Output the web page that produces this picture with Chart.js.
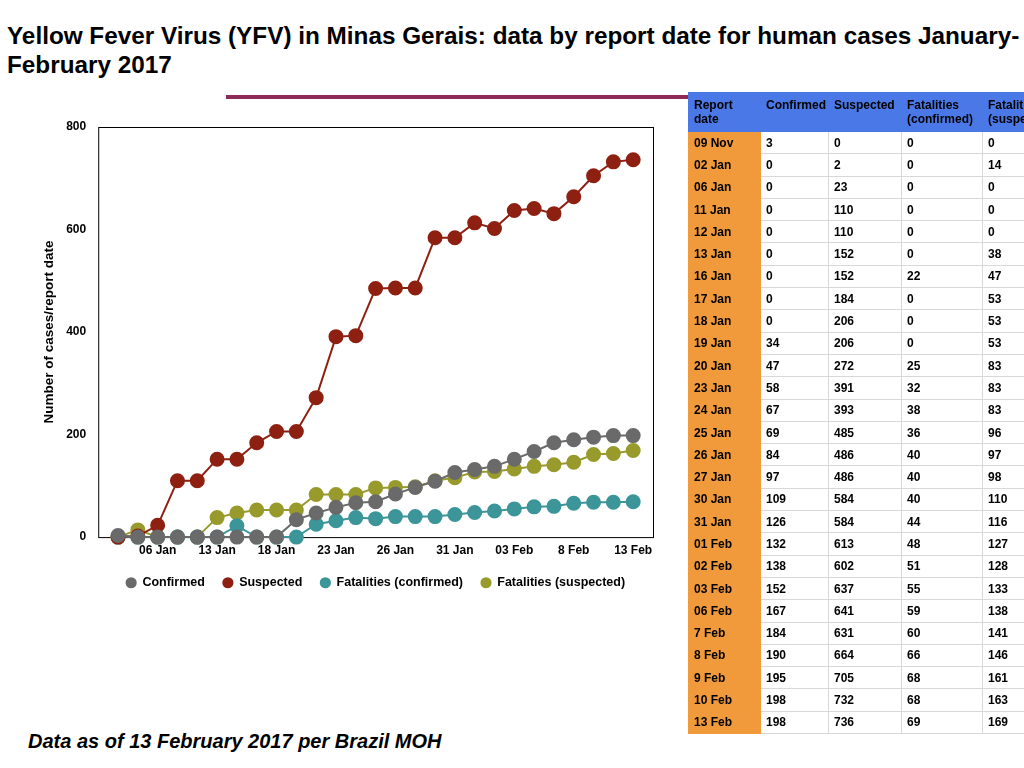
<!DOCTYPE html>
<html>
<head>
<meta charset="utf-8">
<script src="https://cdn.jsdelivr.net/npm/chart.js@4.4.1/dist/chart.umd.min.js"></script>
<style>
  html, body { margin: 0; padding: 0; background: #fff; }
  body { width: 1024px; height: 768px; position: relative; overflow: hidden; font-family: "Liberation Sans", Arial, sans-serif; }
  #title { position: absolute; left: 7px; top: 21px; font-size: 24.3px; font-weight: bold; line-height: 29px; color: #000; white-space: nowrap; }
  #rule { position: absolute; left: 226px; top: 95px; width: 464px; height: 4px; background: #8c2b57; }
  #chartBox { position: absolute; left: 0; top: 105px; width: 700px; height: 500px; }
  #footer { position: absolute; left: 28px; top: 730px; font-size: 20px; font-weight: bold; font-style: italic; }
  #tbl { position: absolute; left: 688px; top: 92px; width: 384px; border-collapse: collapse; table-layout: fixed; font-size: 12px; font-weight: bold; }
  #tbl td, #tbl th { border: 1px solid #d8d8d8; padding: 0 0 0 5px; text-align: left; vertical-align: middle; overflow: hidden; white-space: nowrap; }
  #tbl th { background: #4a78e6; height: 33px; vertical-align: top; padding-top: 5px; line-height: 14px; border-color: #4a78e6; font-weight: bold; }
  #tbl td { height: 21.3px; background: #fff; }
  #tbl td.d { background: #f09a3c; border-color: #f09a3c; }
</style>
</head>
<body>
<div id="title">Yellow Fever Virus (YFV) in Minas Gerais: data by report date for human cases January-<br>February 2017</div>
<div id="rule"></div>
<div id="chartBox"><canvas id="yfvChart"></canvas></div>
<table id="tbl">
  <colgroup><col style="width:72px"><col style="width:68px"><col style="width:73px"><col style="width:81px"><col style="width:90px"></colgroup>
  <thead><tr><th>Report<br>date</th><th>Confirmed</th><th>Suspected</th><th>Fatalities<br>(confirmed)</th><th>Fatalities<br>(suspected)</th></tr></thead>
  <tbody id="tblBody"></tbody>
</table>
<div id="footer">Data as of 13 February 2017 per Brazil MOH</div>
<script>
const reportDates = ["09 Nov", "02 Jan", "06 Jan", "11 Jan", "12 Jan", "13 Jan", "16 Jan", "17 Jan", "18 Jan",
  "19 Jan", "20 Jan", "23 Jan", "24 Jan", "25 Jan", "26 Jan", "27 Jan", "30 Jan", "31 Jan", "01 Feb",
  "02 Feb", "03 Feb", "06 Feb", "7 Feb", "8 Feb", "9 Feb", "10 Feb", "13 Feb"];
const confirmed = [3, 0, 0, 0, 0, 0, 0, 0, 0, 34, 47, 58, 67, 69, 84, 97, 109, 126, 132, 138, 152, 167, 184, 190, 195, 198, 198];
const suspected = [0, 2, 23, 110, 110, 152, 152, 184, 206, 206, 272, 391, 393, 485, 486, 486, 584, 584, 613, 602, 637, 641, 631, 664, 705, 732, 736];
const fatalConfirmed = [0, 0, 0, 0, 0, 0, 22, 0, 0, 0, 25, 32, 38, 36, 40, 40, 40, 44, 48, 51, 55, 59, 60, 66, 68, 68, 69];
const fatalSuspected = [0, 14, 0, 0, 0, 38, 47, 53, 53, 53, 83, 83, 83, 96, 97, 98, 110, 116, 127, 128, 133, 138, 141, 146, 161, 163, 169];
const xTickLabels = ["06 Jan", "13 Jan", "18 Jan", "23 Jan", "26 Jan", "31 Jan", "03 Feb", "8 Feb", "13 Feb"];
const yTicks = [0, 200, 400, 600, 800];

// table on the right
const tbody = document.getElementById("tblBody");
reportDates.forEach((d, i) => {
  const tr = document.createElement("tr");
  const cells = [d, confirmed[i], suspected[i], fatalConfirmed[i], fatalSuspected[i]];
  cells.forEach((v, j) => {
    const td = document.createElement("td");
    if (j === 0) td.className = "d";
    td.textContent = v;
    tr.appendChild(td);
  });
  tbody.appendChild(tr);
});

function toPoints(values) {
  return values.map((v, i) => ({ x: i, y: v }));
}

function series(label, values, color) {
  return {
    label,
    data: toPoints(values),
    borderColor: color,
    backgroundColor: color,
    pointBackgroundColor: color,
    pointBorderColor: color,
    pointRadius: 6.5,
    pointHoverRadius: 6.5,
    borderWidth: 2,
    pointStyle: "circle",
    clip: false,
  };
}

const frameBox = {
  id: "frameBox",
  afterLayout(chart) {
    // legend sits centred under the plot, not under the whole canvas
    const lg = chart.legend;
    lg.left = chart.chartArea.left;
    lg.right = chart.chartArea.right;
    lg.top -= 5;
    lg.bottom -= 5;
  },
  beforeDatasetsDraw(chart) {
    const { ctx, chartArea: a } = chart;
    ctx.save();
    ctx.strokeStyle = "#000";
    ctx.lineWidth = 1;
    ctx.strokeRect(a.left + 0.5, a.top + 0.5, a.right - a.left, a.bottom - a.top);
    ctx.restore();
  },
};

const font = { family: "'Liberation Sans', Arial, sans-serif", weight: "bold" };

new Chart(document.getElementById("yfvChart").getContext("2d"), {
  type: "line",
  data: {
    datasets: [
      series("Confirmed", confirmed, "#6a6a6a"),
      series("Suspected", suspected, "#8e2012"),
      series("Fatalities (confirmed)", fatalConfirmed, "#3b9599"),
      series("Fatalities (suspected)", fatalSuspected, "#989a2c"),
    ],
  },
  options: {
    responsive: true,
    maintainAspectRatio: false,
    animation: false,
    layout: { padding: { left: 41, right: 47, top: 22, bottom: 1 } },
    scales: {
      x: {
        type: "linear",
        min: -1,
        max: 27,
        grid: { display: false, drawTicks: false },
        border: { display: false },
        afterBuildTicks: (scale) => {
          scale.ticks = xTickLabels.map((t) => ({ value: reportDates.indexOf(t) }));
        },
        ticks: {
          autoSkip: false,
          maxRotation: 0,
          padding: 6,
          color: "#000",
          font: { ...font, size: 12 },
          callback: (v) => reportDates[v],
        },
      },
      y: {
        min: 0,
        max: 800,
        grid: { display: false, drawTicks: false },
        border: { display: false },
        afterBuildTicks: (scale) => {
          scale.ticks = yTicks.map((v) => ({ value: v }));
        },
        ticks: { padding: 12, color: "#000", font: { ...font, size: 12 } },
        title: {
          display: true,
          text: "Number of cases/report date",
          color: "#000",
          font: { ...font, size: 13.5 },
          padding: { top: 0, bottom: -3 },
        },
      },
    },
    plugins: {
      legend: {
        display: true,
        position: "bottom",
        labels: {
          usePointStyle: true,
          pointStyle: "circle",
          boxWidth: 10,
          boxHeight: 6.5,
          padding: 18,
          color: "#000",
          font: { ...font, size: 12.5 },
        },
      },
      tooltip: { enabled: false },
    },
  },
  plugins: [frameBox],
});
</script>
</body>
</html>
